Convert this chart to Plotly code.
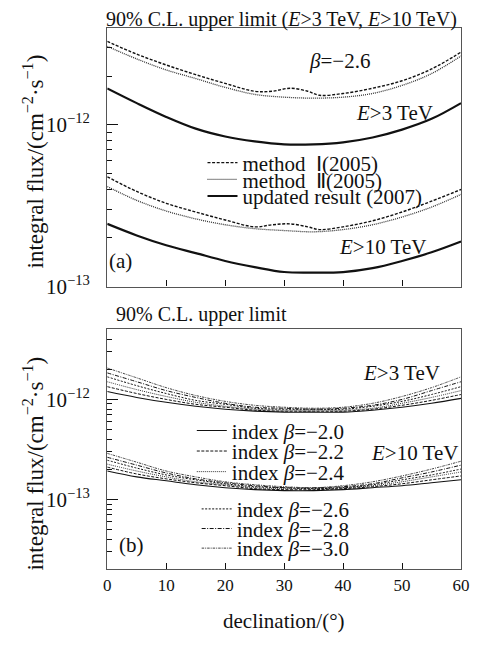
import plotly.graph_objects as go

# ---------------- data ----------------
decl = [0, 5, 10, 15, 20, 25, 30, 35, 40, 45, 50, 55, 60]
decl_m1 = [0, 5, 10, 15, 20, 25, 28, 31, 34, 36, 40, 45, 50, 55, 60]

# panel (a), beta = -2.6
m1_e3 = [3.27e-12, 2.73e-12, 2.34e-12, 2.04e-12, 1.80e-12, 1.61e-12, 1.61e-12, 1.68e-12,
         1.61e-12, 1.52e-12, 1.56e-12, 1.68e-12, 1.87e-12, 2.21e-12, 2.81e-12]
m1_e10 = [4.77e-13, 3.87e-13, 3.27e-13, 2.89e-13, 2.58e-13, 2.34e-13, 2.41e-13, 2.44e-13,
          2.34e-13, 2.25e-13, 2.34e-13, 2.55e-13, 2.89e-13, 3.37e-13, 3.98e-13]
m2_e3 = [3.05e-12, 2.55e-12, 2.18e-12, 1.93e-12, 1.70e-12, 1.54e-12, 1.48e-12, 1.46e-12,
         1.48e-12, 1.56e-12, 1.75e-12, 2.07e-12, 2.66e-12]
m2_e10 = [4.15e-13, 3.41e-13, 2.93e-13, 2.62e-13, 2.41e-13, 2.28e-13, 2.22e-13, 2.18e-13,
          2.25e-13, 2.41e-13, 2.69e-13, 3.10e-13, 3.71e-13]
upd_e3 = [1.676e-12, 1.36e-12, 1.118e-12, 0.946e-12, 0.846e-12, 0.789e-12, 0.756e-12, 0.756e-12,
          0.778e-12, 0.834e-12, 0.933e-12, 1.087e-12, 1.36e-12]
upd_e10 = [2.44e-13, 2.07e-13, 1.80e-13, 1.61e-13, 1.44e-13, 1.32e-13, 1.23e-13, 1.22e-13,
           1.23e-13, 1.30e-13, 1.44e-13, 1.63e-13, 1.90e-13]

# panel (b), different spectral indices
betas = ["−2.0", "−2.2", "−2.4", "−2.6", "−2.8", "−3.0"]
b_e3 = [
    [1.198e-12, 1.046e-12, 0.935e-12, 0.854e-12, 0.798e-12, 0.763e-12, 0.746e-12, 0.746e-12, 0.746e-12, 0.780e-12, 0.835e-12, 0.914e-12, 1.023e-12],
    [1.341e-12, 1.145e-12, 1.000e-12, 0.893e-12, 0.835e-12, 0.780e-12, 0.763e-12, 0.763e-12, 0.763e-12, 0.798e-12, 0.873e-12, 0.978e-12, 1.119e-12],
    [1.502e-12, 1.253e-12, 1.070e-12, 0.935e-12, 0.854e-12, 0.798e-12, 0.780e-12, 0.780e-12, 0.780e-12, 0.816e-12, 0.914e-12, 1.046e-12, 1.225e-12],
    [1.681e-12, 1.372e-12, 1.145e-12, 0.978e-12, 0.893e-12, 0.816e-12, 0.798e-12, 0.798e-12, 0.798e-12, 0.854e-12, 0.956e-12, 1.119e-12, 1.341e-12],
    [1.840e-12, 1.502e-12, 1.225e-12, 1.046e-12, 0.914e-12, 0.835e-12, 0.816e-12, 0.798e-12, 0.816e-12, 0.873e-12, 1.000e-12, 1.225e-12, 1.502e-12],
    [2.059e-12, 1.643e-12, 1.311e-12, 1.094e-12, 0.956e-12, 0.873e-12, 0.835e-12, 0.816e-12, 0.835e-12, 0.914e-12, 1.070e-12, 1.311e-12, 1.681e-12],
]
b_e10 = [
    [1.924e-13, 1.681e-13, 1.536e-13, 1.403e-13, 1.311e-13, 1.253e-13, 1.225e-13, 1.225e-13, 1.253e-13, 1.311e-13, 1.372e-13, 1.468e-13, 1.571e-13],
    [2.106e-13, 1.798e-13, 1.606e-13, 1.468e-13, 1.372e-13, 1.282e-13, 1.253e-13, 1.253e-13, 1.282e-13, 1.341e-13, 1.435e-13, 1.571e-13, 1.719e-13],
    [2.254e-13, 1.924e-13, 1.681e-13, 1.502e-13, 1.403e-13, 1.311e-13, 1.282e-13, 1.282e-13, 1.311e-13, 1.372e-13, 1.502e-13, 1.681e-13, 1.882e-13],
    [2.467e-13, 2.059e-13, 1.758e-13, 1.571e-13, 1.435e-13, 1.341e-13, 1.311e-13, 1.282e-13, 1.311e-13, 1.403e-13, 1.571e-13, 1.758e-13, 2.013e-13],
    [2.640e-13, 2.203e-13, 1.840e-13, 1.606e-13, 1.468e-13, 1.372e-13, 1.311e-13, 1.311e-13, 1.341e-13, 1.435e-13, 1.643e-13, 1.882e-13, 2.203e-13],
    [2.889e-13, 2.358e-13, 1.924e-13, 1.681e-13, 1.502e-13, 1.403e-13, 1.341e-13, 1.311e-13, 1.372e-13, 1.502e-13, 1.719e-13, 2.013e-13, 2.412e-13],
]

x_ticks = [0, 10, 20, 30, 40, 50, 60]
y_major = [1e-13, 1e-12]
y_major_text = ["10<sup>−13</sup>", "10<sup>−12</sup>"]

# ---------------- styling ----------------
# the page body keeps an 8px margin, so the figure is drawn 8px in from each edge
OFF = 8
W, H = 479 - 2 * OFF, 645 - 2 * OFF
FONT = "Liberation Serif"
INK = "#111111"
FRAME = "#555555"


def px(x, y):
    """window pixel -> paper coordinates"""
    return (x - OFF) / W, 1 - (y - OFF) / H


def dom_x(a, b):
    return [px(a, 0)[0], px(b, 0)[0]]


def dom_y(top, bottom):
    return [px(0, bottom)[1], px(0, top)[1]]


fig = go.Figure()

top_styles = [
    ("method  Ⅰ(2005)", decl_m1, m1_e3, m1_e10, dict(color=INK, width=1.4, dash="3px,1.6px"), "legend"),
    ("method  Ⅱ(2005)", decl, m2_e3, m2_e10, dict(color="#333333", width=1.3, dash="1px,1px"), "legend2"),
    ("updated result (2007)", decl, upd_e3, upd_e10, dict(color=INK, width=2.2), "legend3"),
]
for name, xs, y3, y10, line, lg in top_styles:
    for i, ys in enumerate((y3, y10)):
        fig.add_trace(go.Scatter(
            x=xs, y=ys, mode="lines", name=name, line=dict(shape="spline", **line),
            xaxis="x", yaxis="y", legend=lg, showlegend=(i == 0), legendgroup=name))

bottom_lines = [
    dict(color=INK, width=1.1),
    dict(color=INK, width=1.0, dash="3px,1.5px"),
    dict(color="#333333", width=1.0, dash="1px,1px"),
    dict(color=INK, width=1.0, dash="2px,1.5px"),
    dict(color=INK, width=1.0, dash="4px,1.5px,1px,1.5px"),
    dict(color="#444444", width=1.0, dash="2.5px,1px,1px,1px"),
]
for k, b in enumerate(betas):
    name = "index <i>β</i>=" + b
    lg = "legend%d" % (4 + k)
    for i, ys in enumerate((b_e3[k], b_e10[k])):
        fig.add_trace(go.Scatter(
            x=decl, y=ys, mode="lines", name=name,
            line=dict(shape="spline", **bottom_lines[k]),
            xaxis="x2", yaxis="y2", legend=lg, showlegend=(i == 0), legendgroup=name))

minor_vals = [m * 10.0 ** e for e in (-14, -13, -12, -11) for m in range(2, 10)]

common_x = dict(range=[0, 60], tickvals=x_ticks, ticks="inside", ticklen=6, tickcolor=INK,
                showline=True, linecolor=FRAME, linewidth=1.3, mirror=True, showgrid=False,
                zeroline=False, domain=dom_x(106, 470), ticklabeloverflow="allow",
                tickfont=dict(family=FONT, size=17, color=INK))
common_y = dict(type="log", tickvals=y_major, ticktext=y_major_text, ticks="inside", ticklen=11,
                tickcolor=INK, showline=True, linecolor=FRAME, linewidth=1.3, mirror=True,
                showgrid=False, zeroline=False, ticklabelstandoff=12,
                tickfont=dict(family=FONT, size=21, color=INK),
                minor=dict(tickmode="array", tickvals=minor_vals, ticks="inside", ticklen=5,
                           tickcolor=INK, showgrid=False))

legend_base = dict(bgcolor="rgba(0,0,0,0)", borderwidth=0, xanchor="left", yanchor="middle",
                   font=dict(family=FONT, size=21, color=INK), itemwidth=30, tracegroupgap=0)
leg_pos = {
    "legend": (204, 166), "legend2": (204, 183), "legend3": (204, 200),
    "legend4": (193, 439), "legend5": (193, 460), "legend6": (193, 481),
    "legend7": (198, 519), "legend8": (198, 539), "legend9": (198, 559),
}
legends = {}
for key, (lx, ly) in leg_pos.items():
    x, y = px(lx, ly)
    legends[key] = dict(legend_base, x=x, y=y)

ann = []


def add_text(text, x, y, size=21, xanchor="center", angle=0):
    ax, ay = px(x, y)
    ann.append(dict(text=text, x=ax, y=ay, xref="paper", yref="paper", showarrow=False,
                    xanchor=xanchor, yanchor="middle", textangle=angle,
                    font=dict(family=FONT, size=size, color=INK)))


add_text("90% C.L. upper limit (<i>E</i>>3 TeV, <i>E</i>>10 TeV)", 285, 20, 20)
add_text("<i>β</i>=−2.6", 345, 62, 21)
add_text("<i>E</i>>3 TeV", 443, 115, 21, "right")
add_text("<i>E</i>>10 TeV", 436, 252, 21, "right")
add_text("(a)", 106, 266, 21, "left")
add_text("90% C.L. upper limit", 113, 320, 20, "left")
add_text("<i>E</i>>3 TeV", 450, 380, 21, "right")
add_text("<i>E</i>>10 TeV", 469, 462, 21, "right")
add_text("(b)", 116, 555, 21, "left")
add_text("declination/(°)", 288, 633, 21)
ytitle = "integral flux/(cm<sup>−2</sup>·s<sup>−1</sup>)"
add_text(ytitle, 30, 164, 23, angle=-90)
add_text(ytitle, 30, 472, 23, angle=-90)

fig.update_layout(
    width=W, height=H, margin=dict(l=0, r=0, t=0, b=0),
    paper_bgcolor="white", plot_bgcolor="white",
    xaxis=dict(common_x, anchor="y", showticklabels=False),
    yaxis=dict(common_y, range=[-13, -11.4], domain=dom_y(28, 292), anchor="x"),
    xaxis2=dict(common_x, anchor="y2"),
    yaxis2=dict(common_y, range=[-13.696, -11.294], domain=dom_y(335, 580), anchor="x2"),
    annotations=ann,
    **legends,
)

fig.write_html("out.html")
